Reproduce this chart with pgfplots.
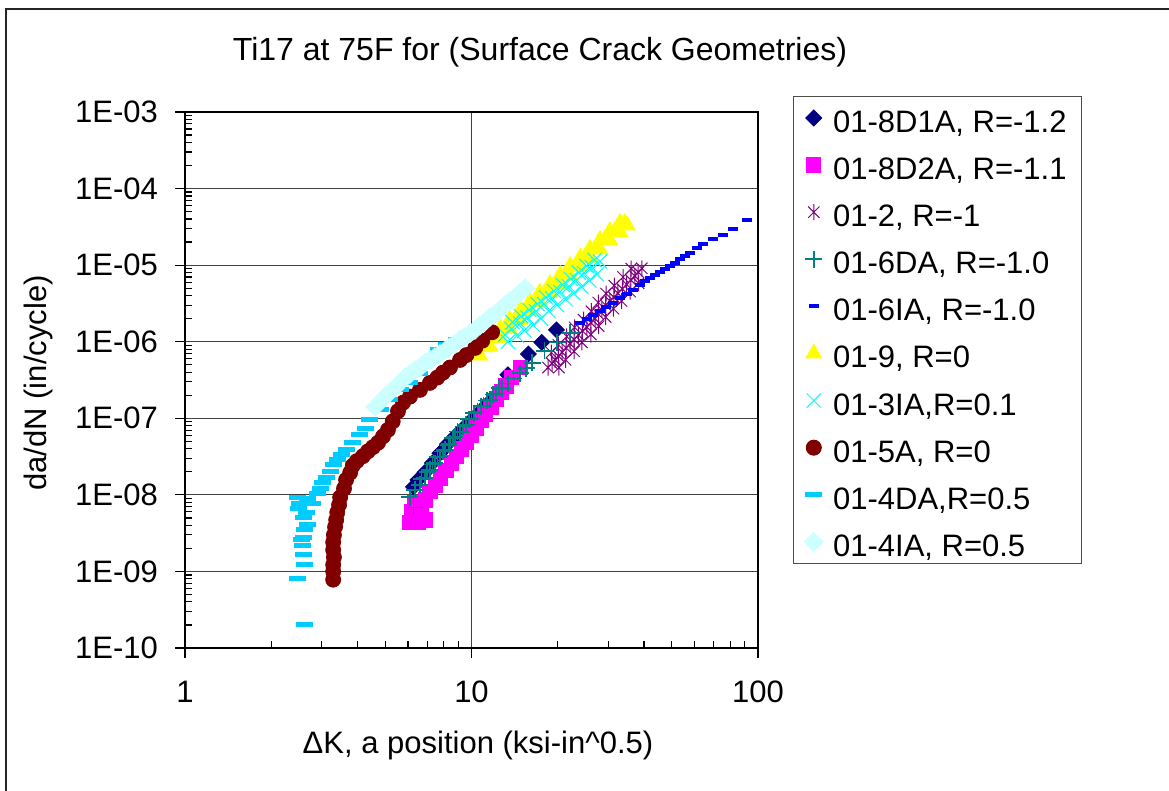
\documentclass[border=0pt]{standalone}
\usepackage{fontspec}
\setmainfont{Liberation Sans}
\usepackage{pgfplots}
\pgfplotsset{compat=1.18}
\definecolor{cNavy}{RGB}{0,0,128}
\definecolor{cMag}{RGB}{255,0,255}
\definecolor{cPur}{RGB}{128,0,128}
\definecolor{cTeal}{RGB}{0,128,128}
\definecolor{cBlue}{RGB}{0,0,255}
\definecolor{cYel}{RGB}{255,255,0}
\definecolor{cCyan}{RGB}{0,255,255}
\definecolor{cBrown}{RGB}{128,0,0}
\definecolor{cSky}{RGB}{0,204,255}
\definecolor{cLcyan}{RGB}{204,255,255}
\pgfdeclareplotmark{xast}{%
  \pgfpathmoveto{\pgfqpoint{0pt}{\pgfplotmarksize}}\pgfpathlineto{\pgfqpoint{0pt}{-\pgfplotmarksize}}%
  \pgfpathmoveto{\pgfqpoint{-.7071\pgfplotmarksize}{-.7071\pgfplotmarksize}}\pgfpathlineto{\pgfqpoint{.7071\pgfplotmarksize}{.7071\pgfplotmarksize}}%
  \pgfpathmoveto{\pgfqpoint{-.7071\pgfplotmarksize}{.7071\pgfplotmarksize}}\pgfpathlineto{\pgfqpoint{.7071\pgfplotmarksize}{-.7071\pgfplotmarksize}}%
  \pgfusepathqstroke}
\begin{document}
\begin{tikzpicture}[font=\fontsize{15.5}{18}\selectfont]
\useasboundingbox (0,0) rectangle (584.5pt,395.5pt);
\fill[white] (0,0) rectangle (584.5pt,395.5pt);
\draw[line width=0.8pt, black!85] (3pt,-2pt) -- (3pt,391pt) -- (590pt,391pt);
\begin{axis}[
  at={(92.5pt,71.5pt)}, anchor=south west,
  scale only axis, width=286.5pt, height=268pt,
  xmode=log, ymode=log,
  xmin=1, xmax=100, ymin=1e-10, ymax=1e-3,
  xtick={1,10,100}, xticklabels={1,10,100},
  ytick={1e-10,1e-9,1e-8,1e-7,1e-6,1e-5,1e-4,1e-3},
  yticklabels={1E-10,1E-09,1E-08,1E-07,1E-06,1E-05,1E-04,1E-03},
  minor xtick={2,3,4,5,6,7,8,9,20,30,40,50,60,70,80,90},
  minor ytick={2e-10,3e-10,4e-10,5e-10,6e-10,7e-10,8e-10,9e-10,
    2e-9,3e-9,4e-9,5e-9,6e-9,7e-9,8e-9,9e-9,
    2e-8,3e-8,4e-8,5e-8,6e-8,7e-8,8e-8,9e-8,
    2e-7,3e-7,4e-7,5e-7,6e-7,7e-7,8e-7,9e-7,
    2e-6,3e-6,4e-6,5e-6,6e-6,7e-6,8e-6,9e-6,
    2e-5,3e-5,4e-5,5e-5,6e-5,7e-5,8e-5,9e-5,
    2e-4,3e-4,4e-4,5e-4,6e-4,7e-4,8e-4,9e-4},
  tick pos=left,
  tick align=inside,
  major tick length=-5pt,
  minor tick length=3.5pt,
  tick style={black, line width=0.6pt},
  xmajorgrids, ymajorgrids,
  grid style={black!75, line width=0.5pt},
  axis line style={black, line width=0.8pt},
  tick label style={font=\fontsize{15.5}{18}\selectfont},
  yticklabel style={xshift=-10pt},
  xticklabel style={yshift=-13pt},
  legend style={at={(1.061,1.0299)}, anchor=north west, draw=black!70, line width=0.5pt,
    font=\fontsize{15.5}{18}\selectfont, row sep=5.05pt, column sep=3pt, inner xsep=5.5pt, inner ysep=1.5pt,
    nodes={inner sep=2pt, text height=14.5pt, text depth=0pt}},
  legend cell align=left,
]
% 01-8D1A
\addplot[only marks, mark=square*, mark size=2.8pt, mark options={rotate=45, draw=cNavy, fill=cNavy}] coordinates {
(6.27,1.27e-8)(6.5,1.57e-8)(6.88,1.97e-8)(7.3,2.6e-8)(7.76,3.5e-8)(8.25,4.6e-8)(8.8,5.9e-8)(9.4,7.5e-8)(10.0,9.5e-8)(10.7,1.22e-7)(11.4,1.55e-7)(12.2,1.94e-7)(12.8,2.5e-7)(13.4,3.7e-7)(15.8,6.9e-7)(17.6,9.8e-7)(19.8,1.43e-6)
};
\addlegendentry{01-8D1A, R=-1.2}
% 01-8D2A
\addplot[only marks, mark=square*, mark size=3.6pt, mark options={draw=cMag, fill=cMag}] coordinates {
(6.1,4.4e-9)(6.5,4.4e-9)(6.9,4.7e-9)(6.2,6.0e-9)(6.7,6.4e-9)(6.35,8.0e-9)(6.9,8.6e-9)(7.16,1.1e-8)(7.5,1.35e-8)(7.8,1.67e-8)(8.15,2.1e-8)(8.5,2.6e-8)(8.85,3.2e-8)(9.2,4.0e-8)(9.6,4.9e-8)(9.95,6.1e-8)(10.4,7.5e-8)(10.8,9.5e-8)(11.2,1.13e-7)(11.7,1.4e-7)(12.2,1.8e-7)(12.7,2.2e-7)(13.2,2.65e-7)(13.8,3.4e-7)(14.8,4.6e-7)
};
\addlegendentry{01-8D2A, R=-1.1}
% 01-2
\addplot[only marks, mark=xast, mark size=4pt, mark options={draw=cPur, line width=0.5pt}] coordinates {
(18.5,4.6e-7)(19.6,5.8e-7)(20.7,7.3e-7)(22.1,9.4e-7)(23.6,1.23e-6)(25.3,1.55e-6)(27.0,2.0e-6)(28.5,2.6e-6)(30.4,3.4e-6)(32.4,4.3e-6)(34.8,5.6e-6)(37.2,7.2e-6)(39.3,9.1e-6)
(19.1,5.2e-7)(20.1,6.5e-7)(21.4,8.3e-7)(22.8,1.07e-6)(24.4,1.38e-6)(26.1,1.77e-6)(27.7,2.3e-6)(29.4,3.0e-6)(31.4,3.8e-6)(33.6,4.9e-6)(36.0,6.4e-6)(38.2,8.1e-6)
(20.2,4.6e-7)(21.3,5.8e-7)(22.8,7.5e-7)(24.3,9.8e-7)(26.1,1.24e-6)(27.8,1.6e-6)(29.4,2.1e-6)(31.3,2.7e-6)(33.4,3.4e-6)(35.8,4.5e-6)(38.3,5.8e-6)
(19.0,7.2e-7)(20.1,9.1e-7)(21.5,1.17e-6)(22.9,1.54e-6)(24.6,1.94e-6)(26.2,2.5e-6)(27.7,3.25e-6)(29.5,4.25e-6)(31.5,5.4e-6)(33.8,7.0e-6)(36.1,9.0e-6)
};
\addlegendentry{01-2, R=-1}
% 01-6DA
\addplot[only marks, mark=+, mark size=4.25pt, mark options={draw=cTeal, line width=0.8pt}] coordinates {
(6.27,6.8e-9)(6.1,9.3e-9)(6.35,1.16e-8)(6.61,1.35e-8)(6.88,1.67e-8)(7.16,2.12e-8)(7.45,2.6e-8)(7.76,3.1e-8)(8.08,3.87e-8)(8.41,4.7e-8)(8.75,5.7e-8)(9.12,6.6e-8)(9.58,8.2e-8)(10.0,9.9e-8)(10.5,1.22e-7)(11.0,1.45e-7)(11.6,1.74e-7)(12.2,2.1e-7)(12.8,2.45e-7)(13.4,2.85e-7)(14.0,3.3e-7)(14.8,3.9e-7)(15.5,4.5e-7)(16.3,5.3e-7)(18.0,7.6e-7)(19.9,9.8e-7)(22.1,1.3e-6)
(6.7,1.6e-8)(7.0,2.0e-8)(7.3,2.5e-8)(7.6,3.1e-8)(7.95,3.7e-8)(8.3,4.5e-8)(8.6,5.5e-8)(8.95,6.7e-8)(9.35,7.8e-8)(9.8,9.7e-8)(10.2,1.17e-7)(10.8,1.44e-7)(11.3,1.7e-7)(11.9,2.05e-7)(12.5,2.5e-7)
};
\addlegendentry{01-6DA, R=-1.0}
% 01-6IA
\addplot[only marks, mark=-, mark size=2.5pt, mark options={draw=cBlue, line width=2pt}] coordinates {
(23.9,1.75e-6)(25.3,2.0e-6)(26.5,2.24e-6)(28.1,2.5e-6)(29.5,2.8e-6)(31.2,3.2e-6)(33.0,3.7e-6)(34.9,4.2e-6)(36.6,4.74e-6)(38.7,5.5e-6)(40.3,6.2e-6)(42.0,6.8e-6)(43.7,7.45e-6)(45.5,8.1e-6)(47.4,8.9e-6)(49.3,9.7e-6)(51.4,1.07e-5)(53.4,1.21e-5)(55.8,1.32e-5)(57.9,1.44e-5)(61.2,1.67e-5)(64.3,1.9e-5)(69.7,2.2e-5)(75.5,2.48e-5)(81.8,2.98e-5)(91.6,3.89e-5)
};
\addlegendentry{01-6IA, R=-1.0}
% 01-9
\addplot[only marks, mark=triangle*, mark size=4.5pt, mark options={draw=cYel, fill=cYel}] coordinates {
(10.3,6.7e-7)(11.1,8.5e-7)(12.1,1.12e-6)(13.1,1.47e-6)(14.2,1.93e-6)(15.4,2.52e-6)(16.6,3.3e-6)(18.0,4.3e-6)(19.6,5.6e-6)(21.2,7.45e-6)(23.0,9.7e-6)(24.9,1.24e-5)(27.0,1.62e-5)(29.2,2.13e-5)(31.7,2.78e-5)(34.3,3.6e-5)
(10.7,8.8e-7)(11.6,1.15e-6)(12.6,1.5e-6)(13.6,1.95e-6)(14.8,2.55e-6)(16.0,3.35e-6)(17.3,4.4e-6)(18.8,5.7e-6)(20.4,7.5e-6)(22.1,9.8e-6)(24.0,1.27e-5)(25.9,1.65e-5)(28.1,2.15e-5)(30.4,2.8e-5)(33.0,3.6e-5)
(10.7,6.6e-7)(11.6,8.6e-7)(12.6,1.12e-6)(13.6,1.47e-6)(14.8,1.9e-6)(16.0,2.5e-6)(17.3,3.3e-6)(18.8,4.3e-6)(20.4,5.6e-6)(22.1,7.3e-6)(24.0,9.5e-6)(25.9,1.24e-5)(28.1,1.6e-5)(30.4,2.1e-5)(33.0,2.7e-5)(35.0,3.3e-5)
};
\addlegendentry{01-9, R=0}
% 01-3IA
\addplot[only marks, mark=x, mark size=5pt, mark options={draw=cCyan, line width=0.5pt}] coordinates {
(13.1,1.23e-6)(13.8,1.47e-6)(14.8,1.73e-6)(15.7,2.06e-6)(16.8,2.5e-6)(17.9,3.1e-6)(19.1,3.7e-6)(20.4,4.5e-6)(21.9,5.3e-6)(23.3,6.4e-6)(24.7,7.9e-6)(26.3,9.4e-6)(28.1,1.12e-5)
(13.4,1.0e-6)(14.4,1.2e-6)(15.3,1.4e-6)(16.4,1.65e-6)(17.5,2.0e-6)(18.6,2.5e-6)(19.9,3.0e-6)(21.3,3.6e-6)(22.7,4.3e-6)(24.2,5.2e-6)(25.8,6.3e-6)(27.4,7.6e-6)
(13.9,1.8e-6)(14.9,2.15e-6)(15.9,2.6e-6)(17.0,3.1e-6)(18.2,3.8e-6)(19.4,4.6e-6)(20.8,5.5e-6)(22.2,6.6e-6)(23.7,8.0e-6)(25.2,9.8e-6)(26.9,1.17e-5)
};
\addlegendentry{01-3IA,R=0.1}
% 01-5A
\addplot[only marks, mark=*, mark size=3.75pt, mark options={draw=cBrown, fill=cBrown}] coordinates {
(3.29,7.8e-10)(3.29,1.0e-9)(3.29,1.22e-9)(3.31,1.53e-9)(3.29,1.91e-9)(3.29,2.4e-9)(3.31,3.0e-9)(3.34,3.8e-9)(3.37,4.7e-9)(3.40,5.9e-9)(3.45,7.4e-9)(3.48,9.3e-9)(3.59,1.21e-8)(3.65,1.57e-8)(3.77,1.94e-8)(3.85,2.4e-8)(3.98,2.76e-8)(4.18,3.2e-8)(4.35,3.7e-8)(4.53,4.2e-8)(4.72,4.8e-8)(4.91,5.8e-8)(5.11,7.06e-8)(5.31,9.1e-8)(5.54,1.24e-7)(5.77,1.6e-7)(6.10,1.92e-7)(6.61,2.35e-7)(7.16,2.9e-7)(7.6,3.4e-7)(7.95,3.95e-7)(8.41,4.6e-7)(9.12,5.78e-7)(9.6,6.7e-7)(10.3,8.3e-7)(10.9,1.03e-6)(11.8,1.33e-6)
};
\addlegendentry{01-5A, R=0}
% 01-4DA
\addplot[only marks, mark=-, mark size=4.25pt, mark options={draw=cSky, line width=2.5pt}] coordinates {
(2.62,2.0e-10)(2.46,8.0e-10)(2.62,1.22e-9)(2.60,1.65e-9)(2.58,2.2e-9)(2.56,2.59e-9)(2.60,2.8e-9)(2.62,3.49e-9)(2.68,4.06e-9)(2.60,5.0e-9)(2.66,5.9e-9)(2.48,6.6e-9)(2.52,7.6e-9)(2.46,9.1e-9)(2.78,7.6e-9)(2.68,8.9e-9)(2.89,1.04e-8)(2.96,1.21e-8)(3.03,1.45e-8)(3.13,1.7e-8)(3.21,2.0e-8)(3.29,2.46e-8)(3.40,2.86e-8)(3.53,3.33e-8)(3.65,3.87e-8)(3.85,4.9e-8)(4.08,6.1e-8)(4.25,7.4e-8)(4.42,9.5e-8)(4.80,1.29e-7)(5.19,1.74e-7)(5.63,2.35e-7)(6.10,2.95e-7)(6.61,3.9e-7)(7.16,5.8e-7)(7.65,7.8e-7)(8.2,9.1e-7)(8.9,1.06e-6)
};
\addlegendentry{01-4DA,R=0.5}
% 01-4IA
\addplot[only marks, mark=square*, mark size=3.3pt, mark options={rotate=45, draw=cLcyan, fill=cLcyan}] coordinates {
(4.61,1.41e-7)(4.80,1.64e-7)(4.99,1.92e-7)(5.19,2.18e-7)(5.41,2.52e-7)(5.63,2.9e-7)(5.86,3.41e-7)(6.10,3.8e-7)(6.35,4.28e-7)(6.61,4.6e-7)(6.88,5.3e-7)(7.16,5.78e-7)(7.45,6.3e-7)(7.76,6.9e-7)(8.08,7.6e-7)(8.41,8.5e-7)(8.75,9.4e-7)(9.12,1.07e-6)(9.49,1.15e-6)(9.88,1.29e-6)(10.3,1.43e-6)(10.7,1.62e-6)(11.1,1.80e-6)(11.6,2.1e-6)(12.1,2.3e-6)(12.6,2.65e-6)(13.1,3.02e-6)(13.6,3.4e-6)(14.2,3.8e-6)(14.8,4.4e-6)(15.4,5.0e-6)
};
\addlegendentry{01-4IA, R=0.5}
\end{axis}
\node at (270pt,369.5pt) {\fontsize{16}{19}\selectfont Ti17 at 75F for (Surface Crack Geometries)};
\node at (239pt,23pt) {ΔK, a position (ksi-in\textasciicircum 0.5)};
\node[rotate=90] at (19pt,204pt) {da/dN (in/cycle)};
\end{tikzpicture}
\end{document}
